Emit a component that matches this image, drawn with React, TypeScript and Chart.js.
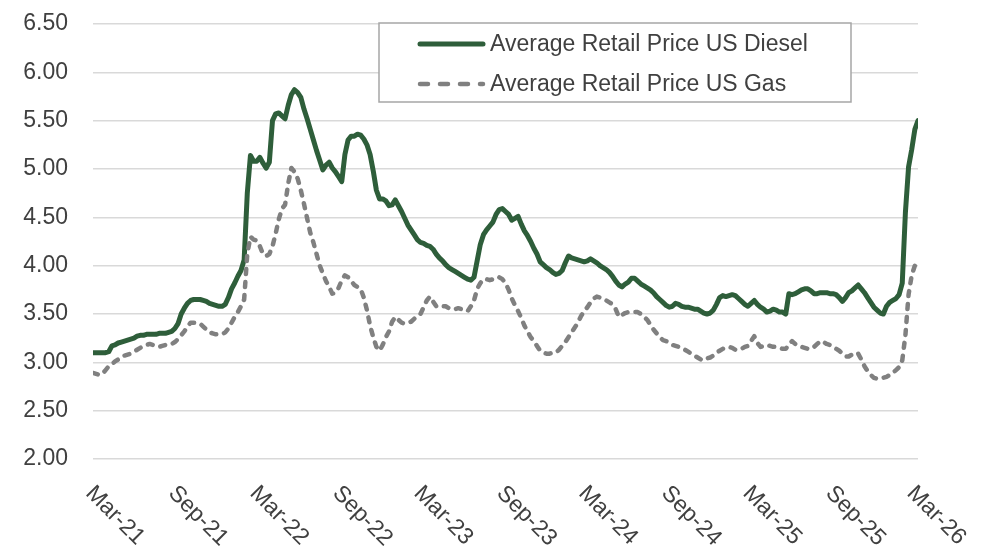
import { useEffect, useRef } from 'react';
import { Chart, registerables } from 'chart.js';

Chart.register(...registerables);

const FONT = '"Liberation Sans", Arial, sans-serif';
const TEXT_COLOR = '#404040';

const START_DATE = '2021-03-29';
const WEEK_COUNT = 263;
const weekDates: string[] = Array.from({ length: WEEK_COUNT }, (_, i) =>
  new Date(Date.UTC(2021, 2, 29) + i * 7 * 86400000).toISOString().slice(0, 10)
);

const xTickLabels = ['Mar-21', 'Sep-21', 'Mar-22', 'Sep-22', 'Mar-23', 'Sep-23', 'Mar-24', 'Sep-24', 'Mar-25', 'Sep-25', 'Mar-26'];
const xTickDates = ['2021-03-29', '2021-09-29', '2022-03-29', '2022-09-29', '2023-03-29', '2023-09-29', '2024-03-29', '2024-09-29', '2025-03-29', '2025-09-29', '2026-03-29'];

const dieselLabel = 'Average Retail Price US Diesel';
const gasLabel = 'Average Retail Price US Gas';

const diesel = [
  3.10, 3.10, 3.10, 3.10, 3.10, 3.11, 3.17, 3.18, 3.20, 3.21,
  3.22, 3.23, 3.24, 3.25, 3.27, 3.28, 3.28, 3.29, 3.29, 3.29,
  3.29, 3.30, 3.30, 3.30, 3.31, 3.32, 3.35, 3.40, 3.50, 3.56,
  3.61, 3.64, 3.65, 3.65, 3.65, 3.64, 3.63, 3.61, 3.60, 3.59,
  3.58, 3.58, 3.60, 3.67, 3.76, 3.82, 3.89, 3.95, 4.06, 4.75,
  5.14, 5.08, 5.08, 5.12, 5.06, 5.01, 5.07, 5.50, 5.57, 5.58,
  5.55, 5.52, 5.66, 5.77, 5.82, 5.79, 5.74, 5.62, 5.52, 5.41,
  5.30, 5.19, 5.09, 4.99, 5.04, 5.07, 5.01, 4.97, 4.92, 4.87,
  5.15, 5.30, 5.34, 5.34, 5.36, 5.35, 5.31, 5.25, 5.15, 4.98,
  4.78, 4.69, 4.69, 4.67, 4.62, 4.63, 4.68, 4.62, 4.56, 4.49,
  4.42, 4.37, 4.32, 4.27, 4.24, 4.23, 4.21, 4.20, 4.17, 4.12,
  4.08, 4.05, 4.01, 3.98, 3.96, 3.94, 3.92, 3.90, 3.88, 3.86,
  3.85, 3.88, 4.05, 4.22, 4.32, 4.37, 4.41, 4.45, 4.53, 4.58,
  4.59, 4.56, 4.53, 4.47, 4.49, 4.51, 4.43, 4.36, 4.31, 4.25,
  4.18, 4.12, 4.04, 4.01, 3.98, 3.96, 3.93, 3.91, 3.92, 3.95,
  4.03, 4.10, 4.08, 4.07, 4.06, 4.05, 4.04, 4.05, 4.07, 4.05,
  4.03, 4.00, 3.98, 3.96, 3.93, 3.89, 3.84, 3.80, 3.78, 3.81,
  3.83, 3.87, 3.87, 3.84, 3.81, 3.79, 3.77, 3.75, 3.72, 3.68,
  3.65, 3.62, 3.59, 3.57, 3.58, 3.61, 3.60, 3.58, 3.57, 3.57,
  3.56, 3.55, 3.55, 3.53, 3.51, 3.50, 3.51, 3.54, 3.60, 3.67,
  3.69, 3.68, 3.69, 3.70, 3.69, 3.66, 3.63, 3.60, 3.58, 3.61,
  3.64, 3.60, 3.57, 3.55, 3.52, 3.53, 3.55, 3.54, 3.52, 3.52,
  3.50, 3.71, 3.70, 3.71, 3.73, 3.75, 3.76, 3.76, 3.74, 3.71,
  3.71, 3.72, 3.72, 3.72, 3.71, 3.71, 3.70, 3.67, 3.63, 3.67,
  3.72, 3.74, 3.77, 3.80, 3.76, 3.72, 3.67, 3.62, 3.57, 3.54,
  3.51, 3.50, 3.58, 3.62, 3.64, 3.66, 3.70, 3.82, 4.55, 5.02,
  5.20, 5.41, 5.50,
];

const gas = [
  2.89, 2.88, 2.87, 2.88, 2.92, 2.96, 2.98, 3.01, 3.03, 3.05,
  3.07, 3.08, 3.09, 3.11, 3.13, 3.15, 3.17, 3.18, 3.19, 3.18,
  3.17, 3.16, 3.17, 3.18, 3.18, 3.19, 3.21, 3.24, 3.28, 3.32,
  3.37, 3.41, 3.41, 3.41, 3.40, 3.37, 3.34, 3.31, 3.30, 3.29,
  3.29, 3.29, 3.31, 3.35, 3.41, 3.47, 3.52, 3.58, 3.65, 4.12,
  4.30, 4.27, 4.26, 4.20, 4.12, 4.10, 4.12, 4.20, 4.33, 4.48,
  4.59, 4.63, 4.85, 5.01, 4.97, 4.90, 4.78, 4.64, 4.49, 4.34,
  4.24, 4.12, 4.00, 3.92, 3.84, 3.78, 3.71, 3.72, 3.77, 3.85,
  3.90, 3.88, 3.84, 3.80, 3.78, 3.76, 3.67, 3.54, 3.38, 3.26,
  3.16, 3.12, 3.18, 3.26, 3.32, 3.42, 3.47, 3.44, 3.41, 3.40,
  3.41, 3.42, 3.45, 3.48, 3.50, 3.57, 3.64, 3.68, 3.63, 3.58,
  3.57, 3.58, 3.58, 3.56, 3.55, 3.55, 3.56, 3.55, 3.54, 3.53,
  3.58, 3.64, 3.76, 3.82, 3.86, 3.86, 3.85, 3.86, 3.88, 3.88,
  3.86, 3.82, 3.75, 3.66, 3.59, 3.53, 3.46, 3.38, 3.32, 3.26,
  3.22, 3.17, 3.12, 3.10, 3.09, 3.09, 3.10, 3.10, 3.13, 3.17,
  3.21, 3.26, 3.31, 3.36, 3.41, 3.48, 3.53, 3.57, 3.62, 3.66,
  3.68, 3.67, 3.65, 3.64, 3.62, 3.60, 3.55, 3.47, 3.49, 3.51,
  3.52, 3.52, 3.52, 3.52, 3.50, 3.47, 3.44, 3.39, 3.34, 3.30,
  3.26, 3.23, 3.22, 3.20, 3.18, 3.17, 3.16, 3.15, 3.13, 3.11,
  3.09, 3.07, 3.05, 3.03, 3.02, 3.04, 3.05, 3.07, 3.10, 3.12,
  3.14, 3.15, 3.16, 3.15, 3.13, 3.13, 3.14, 3.16, 3.17, 3.22,
  3.27, 3.20, 3.16, 3.17, 3.18, 3.17, 3.16, 3.16, 3.15, 3.14,
  3.14, 3.18, 3.22, 3.19, 3.17, 3.16, 3.15, 3.14, 3.14, 3.16,
  3.19, 3.22, 3.21, 3.19, 3.18, 3.16, 3.14, 3.12, 3.09, 3.06,
  3.06, 3.08, 3.10, 3.09, 3.03, 2.96, 2.91, 2.87, 2.84, 2.83,
  2.83, 2.84, 2.85, 2.87, 2.89, 2.92, 2.95, 3.02, 3.28, 3.70,
  3.90, 4.00, 4.06,
];

const yMin = 2;
const yMax = 6.5;
const yStep = 0.5;

const DAY = 86400000;
const dayOf = (iso: string) => (Date.parse(iso) - Date.parse(START_DATE)) / DAY;

const xLabelPlugin = {
  id: 'rotatedXLabels',
  afterDraw(chart: any) {
    const { ctx, scales, chartArea } = chart;
    const xs = scales.x;
    ctx.save();
    ctx.font = `23px ${FONT}`;
    ctx.fillStyle = TEXT_COLOR;
    ctx.textAlign = 'left';
    ctx.textBaseline = 'alphabetic';
    xTickLabels.forEach((lab, i) => {
      const px = xs.getPixelForValue(dayOf(xTickDates[i]));
      ctx.save();
      ctx.translate(px + 3, chartArea.bottom + 24);
      ctx.rotate(Math.PI / 4);
      ctx.fillText(lab, 0, 16);
      ctx.restore();
    });
    ctx.restore();
  },
};

const boxLegendPlugin = {
  id: 'boxLegend',
  afterDraw(chart: any) {
    const { ctx } = chart;
    const left = 379, top = 23, w = 472, h = 79;
    ctx.save();
    ctx.fillStyle = '#ffffff';
    ctx.fillRect(left, top, w, h);
    ctx.strokeStyle = '#a6a6a6';
    ctx.lineWidth = 1.5;
    ctx.strokeRect(left, top, w, h);
    const rows = [21, 61];
    chart.data.datasets.forEach((ds: any, i: number) => {
      const y = top + rows[i];
      ctx.save();
      ctx.strokeStyle = ds.borderColor;
      ctx.lineWidth = ds.borderWidth;
      ctx.lineCap = 'round';
      ctx.setLineDash(ds.borderDash ? [8, 12] : []);
      ctx.beginPath();
      ctx.moveTo(left + 41, y);
      ctx.lineTo(left + 104, y);
      ctx.stroke();
      ctx.restore();
      ctx.font = `23px ${FONT}`;
      ctx.fillStyle = TEXT_COLOR;
      ctx.textAlign = 'left';
      ctx.textBaseline = 'middle';
      ctx.fillText(ds.label, left + 111, y + 1);
    });
    ctx.restore();
  },
};

export default function App() {
  const canvasRef = useRef<HTMLCanvasElement | null>(null);

  useEffect(() => {
    if (!canvasRef.current) return;
    const xs = weekDates.map(dayOf);
    const chart = new Chart(canvasRef.current, {
      type: 'line',
      data: {
        datasets: [
          {
            label: dieselLabel,
            data: xs.map((x, i) => ({ x, y: diesel[i] })),
            borderColor: '#2E5E3A',
            borderWidth: 5,
            pointRadius: 0,
            tension: 0,
            borderJoinStyle: 'round',
            borderCapStyle: 'round',
            order: 1,
          },
          {
            label: gasLabel,
            data: xs.map((x, i) => ({ x, y: gas[i] })),
            borderColor: '#808080',
            borderWidth: 4.5,
            borderDash: [5, 8],
            pointRadius: 0,
            tension: 0,
            borderJoinStyle: 'round',
            borderCapStyle: 'round',
            order: 0,
          },
        ],
      },
      options: {
        animation: false,
        responsive: false,
        devicePixelRatio: 1,
        layout: { padding: { top: 24, right: 65, bottom: 100, left: 0 } },
        plugins: { legend: { display: false }, tooltip: { enabled: false } },
        scales: {
          x: {
            type: 'linear',
            display: false,
            min: 0,
            max: xs[xs.length - 1],
          },
          y: {
            min: yMin,
            max: yMax,
            afterFit: (scale: any) => {
              scale.width = 93;
              scale.paddingTop = 0;
              scale.paddingBottom = 0;
            },
            ticks: {
              stepSize: yStep,
              padding: 25,
              color: TEXT_COLOR,
              font: { family: FONT, size: 23 },
              callback: (v: any) => Number(v).toFixed(2),
            },
            grid: { color: '#d9d9d9', lineWidth: 1.5, drawTicks: false },
            border: { display: false },
          },
        },
      },
      plugins: [xLabelPlugin, boxLegendPlugin],
    } as any);
    return () => chart.destroy();
  }, []);

  return (
    <div style={{ position: 'fixed', left: 0, top: 0, width: 983, height: 559, background: '#fff' }}>
      <canvas ref={canvasRef} width={983} height={559} style={{ display: 'block' }} />
    </div>
  );
}
